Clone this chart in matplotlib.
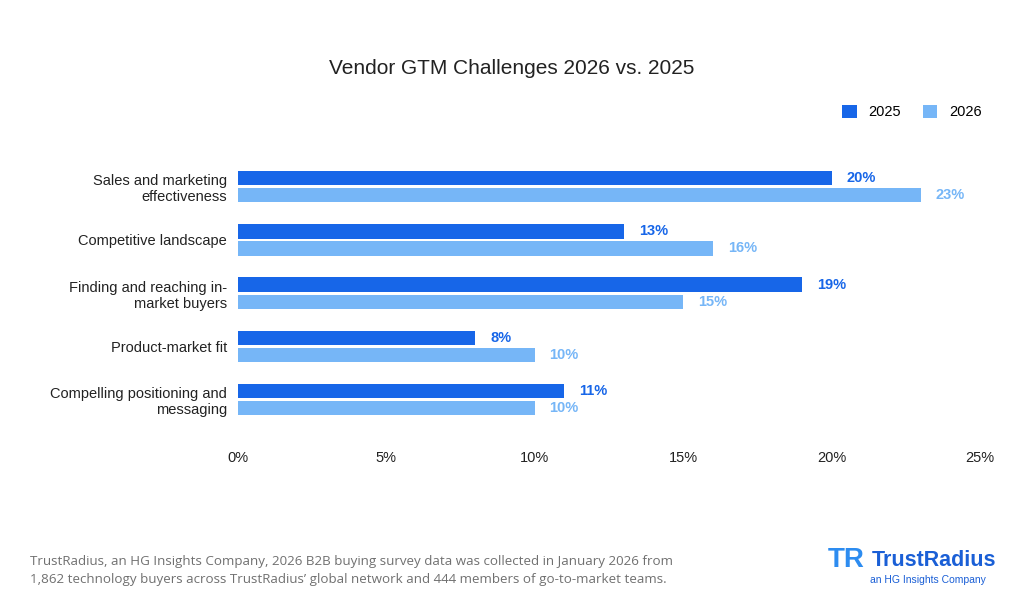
import matplotlib
matplotlib.use("Agg")
import matplotlib.pyplot as plt
import numpy as np

plt.rcParams['font.family'] = ['Liberation Sans', 'DejaVu Sans']

categories = ["Sales and marketing\neffectiveness", "Competitive landscape",
              "Finding and reaching in-\nmarket buyers", "Product-market fit",
              "Compelling positioning and\nmessaging"]
v2025 = [20, 13, 19, 8, 11]
v2026 = [23, 16, 15, 10, 10]
xticks = [0, 5, 10, 15, 20, 25]
c25, c26 = "#1766e8", "#76b6f7"

fig = plt.figure(figsize=(10.24, 6.14), dpi=100)
ax = fig.add_axes([0.2324, 0.297, 0.7246, 0.451])
y = np.arange(len(categories))
h = 0.27
ax.barh(y - 0.16, v2025, height=h, color=c25, label="2025")
ax.barh(y + 0.16, v2026, height=h, color=c26, label="2026")
for yi, a, b in zip(y, v2025, v2026):
    ax.text(a + 0.5, yi - 0.16, f"{a}%", va="center", ha="left", color=c25, fontsize=10.5, fontweight="bold")
    ax.text(b + 0.5, yi + 0.16, f"{b}%", va="center", ha="left", color=c26, fontsize=10.5, fontweight="bold")
ax.set_ylim(4.6, -0.6)
ax.set_xlim(0, 25)
ax.set_yticks(y)
ax.set_yticklabels(categories, fontsize=10.5, color="#222222")
ax.set_xticks(xticks)
ax.set_xticklabels([f"{t}%" for t in xticks], fontsize=10.5, color="#222222")
ax.tick_params(length=0, axis="y", pad=8)
ax.tick_params(length=0, axis="x", pad=14)
for s in ax.spines.values():
    s.set_visible(False)
ax.legend(loc="lower right", bbox_to_anchor=(1.02, 1.08), ncol=2, frameon=False,
          fontsize=10.5, handlelength=1.0, handleheight=1.0, columnspacing=1.5)

fig.text(0.5, 1 - 68/614, "Vendor GTM Challenges 2026 vs. 2025", ha="center", va="center", fontsize=15, color="#222222")
fig.text(30/1024, 1 - 571/614,
         "TrustRadius, an HG Insights Company, 2026 B2B buying survey data was collected in January 2026 from\n"
         "1,862 technology buyers across TrustRadius\u2019 global network and 444 members of go-to-market teams.",
         ha="left", va="center", fontsize=9.6, color="#707070", linespacing=1.5, family=["Open Sans", "DejaVu Sans"])
fig.text(846/1024, 1 - 560/614, "TR", ha="center", va="center", fontsize=20, fontweight="bold", color="#2d8cf0")
fig.text(872/1024, 1 - 560/614, "TrustRadius", ha="left", va="center", fontsize=15.5, fontweight="bold", color="#1a5fd6")
fig.text(928/1024, 1 - 580/614, "an HG Insights Company", ha="center", va="center", fontsize=7.5, color="#1a5fd6")
fig.savefig("out.png", dpi=100)
